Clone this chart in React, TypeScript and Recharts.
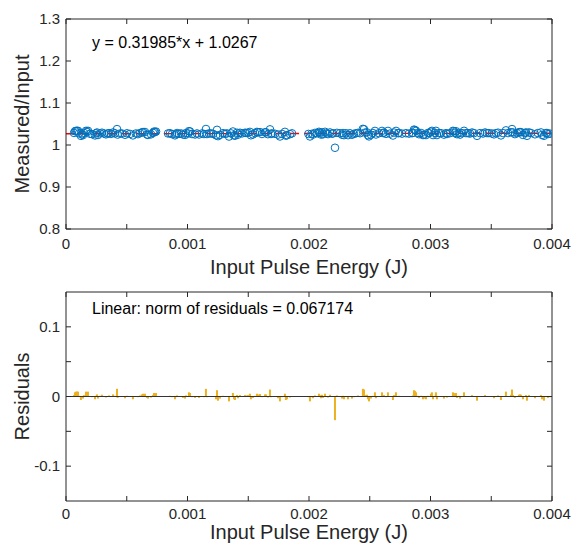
import React from "react"
import {
  ComposedChart,
  Scatter,
  Bar,
  XAxis,
  YAxis,
  ReferenceLine,
} from "recharts"

// pulse energies in mJ and fit residuals in units of 1e-3
const energyMJ = [
  0.066, 0.074, 0.082, 0.091, 0.099, 0.107, 0.123, 0.132, 0.14, 0.148, 0.165, 0.173, 0.181, 0.198, 0.214,
  0.239, 0.247, 0.255, 0.263, 0.28, 0.296, 0.313, 0.329, 0.342, 0.354, 0.37, 0.387, 0.403, 0.42, 0.425,
  0.445, 0.461, 0.486, 0.502, 0.527, 0.551, 0.575, 0.592, 0.609, 0.625, 0.634, 0.65, 0.667, 0.675, 0.7,
  0.716, 0.724, 0.733, 0.741,
  0.84, 0.856, 0.872, 0.897, 0.905, 0.914, 0.93, 0.947, 0.963, 0.98, 0.988, 1.004, 1.012, 1.021, 1.037,
  1.062, 1.078, 1.095, 1.12, 1.136, 1.152, 1.16, 1.177, 1.194, 1.21, 1.235, 1.243, 1.251, 1.267, 1.292,
  1.309, 1.325, 1.342, 1.358, 1.374, 1.383, 1.391, 1.408, 1.416, 1.432, 1.449, 1.473, 1.482, 1.498, 1.514,
  1.522, 1.539, 1.556, 1.572, 1.58, 1.597, 1.613, 1.638, 1.646, 1.662, 1.679, 1.687, 1.695, 1.72, 1.745,
  1.761, 1.778, 1.802, 1.81, 1.819, 1.844, 1.86,
  1.995, 2.008, 2.02, 2.033, 2.049, 2.066, 2.082, 2.09, 2.099, 2.107, 2.115, 2.132, 2.148, 2.156, 2.173,
  2.19, 2.198, 2.214, 2.23, 2.255, 2.272, 2.28, 2.288, 2.305, 2.321, 2.337, 2.354, 2.37, 2.387, 2.403,
  2.42, 2.444, 2.453, 2.461, 2.477, 2.485, 2.494, 2.51, 2.526, 2.543, 2.551, 2.576, 2.601, 2.609, 2.617,
  2.633, 2.65, 2.666, 2.691, 2.7, 2.716, 2.733, 2.741, 2.765, 2.798, 2.823, 2.848, 2.856, 2.864, 2.872,
  2.881, 2.897, 2.905, 2.922, 2.938, 2.946, 2.963, 2.979, 2.988,
  3.004, 3.012, 3.021, 3.037, 3.045, 3.053, 3.07, 3.086, 3.111, 3.128, 3.136, 3.16, 3.185, 3.193, 3.201,
  3.21, 3.218, 3.234, 3.243, 3.259, 3.276, 3.292, 3.309, 3.325, 3.342, 3.358, 3.383, 3.408, 3.432, 3.449,
  3.465, 3.481, 3.506, 3.523, 3.539, 3.556, 3.58, 3.597, 3.621, 3.638, 3.663, 3.671, 3.679, 3.695, 3.712,
  3.728, 3.737, 3.745, 3.761, 3.778, 3.786, 3.794, 3.811, 3.827, 3.86, 3.884, 3.909, 3.918, 3.934, 3.951,
  3.959, 3.967, 3.984,
]

const residualMilli = [
  2, 6, 7, 7, 7, 1, -5, -1, -3, 2, 7, 4, 7, 0, -1,
  -4, 1, 3, -3, 1, 2.5, 0.5, -1.5, 0.5, 1.5, -0.5, 3, 1, 11, -2,
  0.5, 0.5, -2.5, 1, -0.5, -4, 0.5, -1, 1.5, 3, 4, 4, -2, -3, -1.5,
  2, 5, 4, 5,
  0.5, 1, -1, -4, -1, 1.5, -0.5, 0.5, -2, -3, 1.5, 0.5, 6, 5, -1,
  -2, 0.5, -2, 0.5, -1, 11, -1, 0.5, 0.5, -0.5, -4, 9, -6, -3, 1,
  -0.5, 0.5, -7, 0.5, 5, -4, -5, 2, -2.5, 2, 0.5, 2, 1.5, 2, 4,
  -4, -2, 1, 4, 3, 3.5, -1, 3, 3, -1.5, 10, -1, 0.5, -0.5, -2.5,
  -7, -1, 4, -5, -4, -1.5, 0.5,
  -1, -7, -1, -2.5, 1.5, 0.5, 4, 2, -2.5, 2.5, -2, 4, 0.5, -1.5, 2.5,
  -0.5, 0.5, -34, 1.5, 0.5, -3, 1, -4, 0.5, -4, 0.5, -3, -1, 0.5, 1.5,
  0.5, 11, 10, 2, 2.5, -4, -7, -3, 1, 6, -2.5, 0.5, 6, 1, 2,
  -1, 6, -0.5, -5, 2, 6, 0.5, 1, -0.5, 0.5, -0.5, 0.5, 1.5, 9, 8,
  6, 1, -2, 1, -4, -3, -4, 1, 0.5,
  4, 6, -4, 1, 6, -4, 0.5, 0.5, -3, 0.5, -1.5, 0.5, 6, 5, 1,
  5, -2, 1, -3, 0.5, 6, 0.5, 0.5, -0.5, 2, 0.5, -6, 0.5, -0.5, 2,
  0.5, 0.5, -0.5, -2.5, 0.5, 1.5, -5, 0.5, 7, 0.5, 2.5, 10, 2, -2, 0.5,
  2.5, 3, 2.5, -4, 0.5, 2, -6, 2, 0.5, -2.5, 0.5, 2, -4, -6, 0.5,
  0.5, -2, -1,
]

const slope = 0.31985
const intercept = 1.0267

const xTicks = [0, 0.0005, 0.001, 0.0015, 0.002, 0.0025, 0.003, 0.0035, 0.004]
const ratioTicks = [0.8, 0.9, 1, 1.1, 1.2, 1.3]
const residualTicks = [-0.1, -0.05, 0, 0.05, 0.1]

const points = energyMJ.map((e, i) => {
  const energy = e / 1000
  const res = residualMilli[i] / 1000
  return { energy, ratio: intercept + slope * energy + res, res }
})
// fit line end points, from the fitted equation
const fitSegment = [0, 0.004].map((x) => ({ x, y: intercept + slope * x }))

const FONT = "'Liberation Sans', Arial, Helvetica, sans-serif"
const AX = "#262626"
const TICK = 5

const fmtX = (v: number) => {
  const k = Math.round(v * 10000)
  if (k % 10 !== 0) return ""
  return v === 0 ? "0" : v.toFixed(3)
}

const makeBottomTick = (dy: number) => (props: any) => {
  const { x, y, payload } = props
  const label = fmtX(payload.value)
  return (
    <g>
      <line x1={x} y1={y} x2={x} y2={y - TICK} stroke={AX} />
      {label && (
        <text x={x} y={y + dy} textAnchor="middle" fontSize={15} fill={AX} fontFamily={FONT}>
          {label}
        </text>
      )}
    </g>
  )
}

const TopTick = (props: any) => {
  const { x, y } = props
  return <line x1={x} y1={y} x2={x} y2={y + TICK} stroke={AX} />
}

const makeLeftTick = (labels: number[], fmt: (v: number) => string) => (props: any) => {
  const { x, y, payload } = props
  const show = labels.some((l) => Math.abs(l - payload.value) < 1e-9)
  return (
    <g>
      <line x1={x} y1={y} x2={x + TICK} y2={y} stroke={AX} />
      {show && (
        <text x={x - 6} y={y + 5} textAnchor="end" fontSize={15} fill={AX} fontFamily={FONT}>
          {fmt(payload.value)}
        </text>
      )}
    </g>
  )
}

const RightTick = (props: any) => {
  const { x, y } = props
  return <line x1={x} y1={y} x2={x - TICK} y2={y} stroke={AX} />
}

const xTitle = (dy: number) => (props: any) => {
  const vb = props.viewBox
  return (
    <text x={vb.x + vb.width / 2} y={vb.y + dy} textAnchor="middle" fontSize={20} fill={AX} fontFamily={FONT}>
      Input Pulse Energy (J)
    </text>
  )
}

const yTitle = (text: string) => (props: any) => {
  const vb = props.viewBox
  const cx = vb.x + vb.width - 37
  const cy = vb.y + vb.height / 2
  return (
    <text
      x={cx}
      y={cy}
      transform={`rotate(-90 ${cx} ${cy})`}
      textAnchor="middle"
      fontSize={20}
      fill={AX}
      fontFamily={FONT}
    >
      {text}
    </text>
  )
}

const note = (text: string, dy: number) => (props: any) => {
  const vb = props.viewBox
  return (
    <text x={vb.x + 26} y={vb.y + vb.height + dy} fontSize={16} fill="#000" fontFamily={FONT}>
      {text}
    </text>
  )
}

const Stem = (p: any) => {
  const h = Math.abs(p.height || 0)
  const top = Math.min(p.y, p.y + (p.height || 0))
  return <rect x={p.x + p.width / 2 - 1} y={top} width={2} height={Math.max(h, 0.5)} fill="#EDB120" />
}

export default function App() {
  return (
    <div style={{ position: "absolute", left: 0, top: 0, width: 579, height: 543, background: "#fff" }}>
      <ComposedChart
        width={579}
        height={280}
        data={points}
        margin={{ top: 18, right: 26, bottom: 1, left: 26 }}
      >
        <XAxis
          xAxisId="b"
          dataKey="energy"
          type="number"
          domain={[0, 0.004]}
          ticks={xTicks}
          interval={0}
          allowDataOverflow
          height={50}
          stroke={AX}
          tickSize={0}
          tickMargin={0}
          tick={makeBottomTick(20)}
          label={{ content: xTitle(45) }}
        />
        <XAxis
          xAxisId="t"
          orientation="top"
          dataKey="energy"
          type="number"
          domain={[0, 0.004]}
          ticks={xTicks}
          interval={0}
          allowDataOverflow
          height={1}
          stroke={AX}
          tickSize={0}
          tickMargin={0}
          tick={TopTick}
          label={{ content: note("y = 0.31985*x + 1.0267", 29) }}
        />
        <YAxis
          yAxisId="l"
          type="number"
          domain={[0.8, 1.3]}
          ticks={ratioTicks}
          interval={0}
          allowDataOverflow
          width={40}
          stroke={AX}
          tickSize={0}
          tickMargin={0}
          tick={makeLeftTick(ratioTicks, (v) => (v === 1 ? "1" : v.toFixed(1)))}
          label={{ content: yTitle("Measured/Input") }}
        />
        <YAxis
          yAxisId="r"
          orientation="right"
          type="number"
          domain={[0.8, 1.3]}
          ticks={ratioTicks}
          interval={0}
          allowDataOverflow
          width={1}
          stroke={AX}
          tickSize={0}
          tickMargin={0}
          tick={RightTick}
        />
        <Scatter
          xAxisId="b"
          yAxisId="l"
          dataKey="ratio"
          isAnimationActive={false}
          shape={(p: any) => <circle cx={p.cx} cy={p.cy} r={3.8} fill="none" stroke="#0072BD" strokeWidth={1} />}
        />
        <ReferenceLine
          xAxisId="b"
          yAxisId="l"
          segment={fitSegment}
          stroke="#FF0000"
          strokeWidth={1.4}
          strokeDasharray="9 5"
        />
      </ComposedChart>

      <ComposedChart
        width={579}
        height={263}
        data={points}
        margin={{ top: 11, right: 26, bottom: 1, left: 26 }}
      >
        <XAxis
          xAxisId="b"
          dataKey="energy"
          type="number"
          domain={[0, 0.004]}
          ticks={xTicks}
          interval={0}
          allowDataOverflow
          height={41}
          stroke={AX}
          tickSize={0}
          tickMargin={0}
          tick={makeBottomTick(18)}
          label={{ content: xTitle(38) }}
        />
        <XAxis
          xAxisId="t"
          orientation="top"
          dataKey="energy"
          type="number"
          domain={[0, 0.004]}
          ticks={xTicks}
          interval={0}
          allowDataOverflow
          height={1}
          stroke={AX}
          tickSize={0}
          tickMargin={0}
          tick={TopTick}
          label={{ content: note("Linear: norm of residuals = 0.067174", 22) }}
        />
        <YAxis
          yAxisId="l"
          type="number"
          domain={[-0.15, 0.15]}
          ticks={residualTicks}
          interval={0}
          allowDataOverflow
          width={40}
          stroke={AX}
          tickSize={0}
          tickMargin={0}
          tick={makeLeftTick([-0.1, 0, 0.1], (v) => (v === 0 ? "0" : v.toFixed(1)))}
          label={{ content: yTitle("Residuals") }}
        />
        <YAxis
          yAxisId="r"
          orientation="right"
          type="number"
          domain={[-0.15, 0.15]}
          ticks={residualTicks}
          interval={0}
          allowDataOverflow
          width={1}
          stroke={AX}
          tickSize={0}
          tickMargin={0}
          tick={RightTick}
        />
        <Bar xAxisId="b" yAxisId="l" dataKey="res" fill="#EDB120" barSize={2} shape={Stem} isAnimationActive={false} />
        <ReferenceLine xAxisId="b" yAxisId="l" y={0} stroke="#333" strokeWidth={1.2} />
      </ComposedChart>
    </div>
  )
}
